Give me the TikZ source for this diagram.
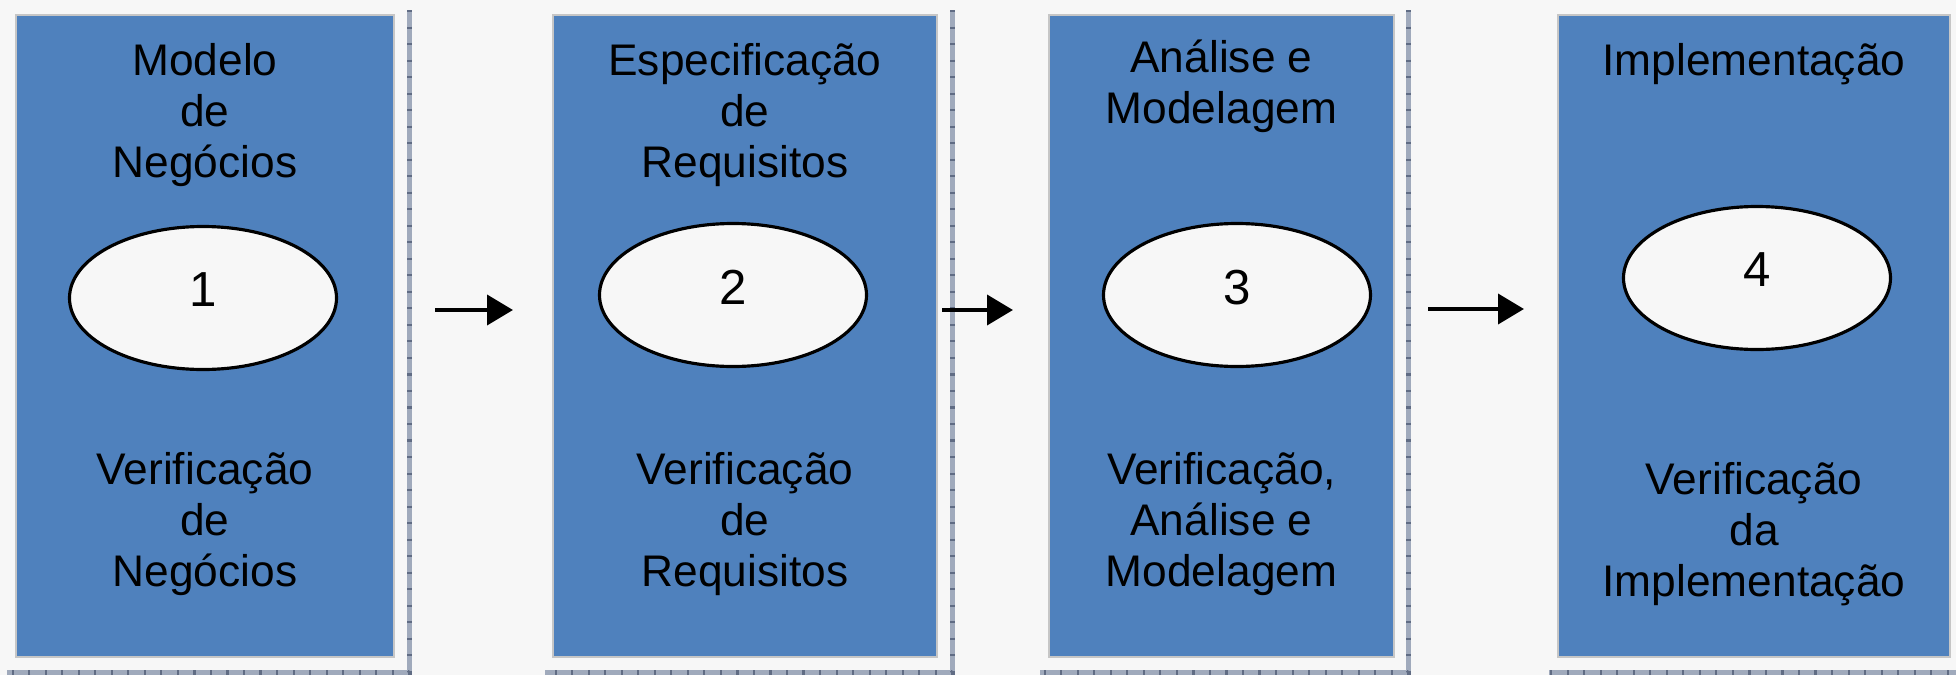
\documentclass[tikz,border=0pt]{standalone}
\usepackage{fontspec}
\setmainfont{Liberation Sans}
\usetikzlibrary{shapes.geometric,arrows.meta}
\definecolor{fasefill}{RGB}{79,129,189}
\definecolor{fundo}{RGB}{247,247,247}
\definecolor{reguacor}{RGB}{160,170,188}
\definecolor{reguatick}{RGB}{96,108,132}

\begin{document}
\begin{tikzpicture}[
            fase/.style={draw=gray!45, line width=0.5pt, fill=fasefill, minimum height=6.42cm, inner sep=0pt},
            titulo/.style={align=center, font=\fontsize{12.6}{14.5}\selectfont, inner sep=0pt},
            etapa/.style={draw, ellipse, line width=0.9pt, fill=fundo, minimum width=2.67cm, minimum height=1.43cm, inner sep=0pt, text depth=0.16cm, font=\fontsize{14}{16}\selectfont},
            regua/.style={line width=0.05cm, draw=reguacor, postaction={draw=reguatick, dash pattern=on 0.6pt off 4.1pt}},
            seta/.style={-{Triangle[length=2.6mm,width=3mm]}, line width=1.1pt}
            ]
        \fill[fundo] (0,0) rectangle (19.56,-6.75);
        \useasboundingbox (0,0) rectangle (19.56,-6.75);

        \draw[regua] (4.09,-0.10) -- (4.09,-6.72) -- (0.07,-6.72);
        \draw[regua] (9.52,-0.10) -- (9.52,-6.72) -- (5.45,-6.72);
        \draw[regua] (14.08,-0.10) -- (14.08,-6.72) -- (10.40,-6.72);
        \draw[regua] (19.64,-0.10) -- (19.64,-6.72) -- (15.49,-6.72);

        \node[fase, minimum width=3.78cm] (fase1) at (2.05,-3.36) {};
        \node[fase, minimum width=3.84cm] (fase2) at (7.45,-3.36) {};
        \node[fase, minimum width=3.45cm] (fase3) at (12.215,-3.36) {};
        \node[fase, minimum width=3.92cm] (fase4) at (17.54,-3.36) {};

        \node[titulo] (topo1) at (2.05,-1.15) {Modelo\\de\\Negócios};
        \node[titulo] (topo2) at (7.45,-1.15) {Especificação\\de\\Requisitos};
        \node[titulo] (topo3) at (12.215,-0.86) {Análise e\\Modelagem};
        \node[titulo] (topo4) at (17.54,-0.645) {Implementação};

        \node[etapa] (etapa1) at (2.03,-2.98) {1};
        \node[etapa] (etapa2) at (7.33,-2.95) {2};
        \node[etapa] (etapa3) at (12.37,-2.95) {3};
        \node[etapa] (etapa4) at (17.57,-2.78) {4};

        \node[titulo] (verif1) at (2.05,-5.24) {Verificação\\de\\Negócios};
        \node[titulo] (verif2) at (7.45,-5.24) {Verificação\\de\\Requisitos};
        \node[titulo] (verif3) at (12.215,-5.24) {Verificação,\\Análise e\\Modelagem};
        \node[titulo] (verif4) at (17.54,-5.34) {Verificação\\da\\Implementação};

        \coordinate (ini1) at (4.35,-3.10);
        \coordinate (fim1) at (5.13,-3.10);
        \coordinate (ini2) at (9.42,-3.10);
        \coordinate (fim2) at (10.13,-3.10);
        \coordinate (ini3) at (14.28,-3.09);
        \coordinate (fim3) at (15.24,-3.09);
        \draw[seta] (ini1) -- (fim1);
        \draw[seta] (ini2) -- (fim2);
        \draw[seta] (ini3) -- (fim3);
        \end{tikzpicture}
\end{document}
